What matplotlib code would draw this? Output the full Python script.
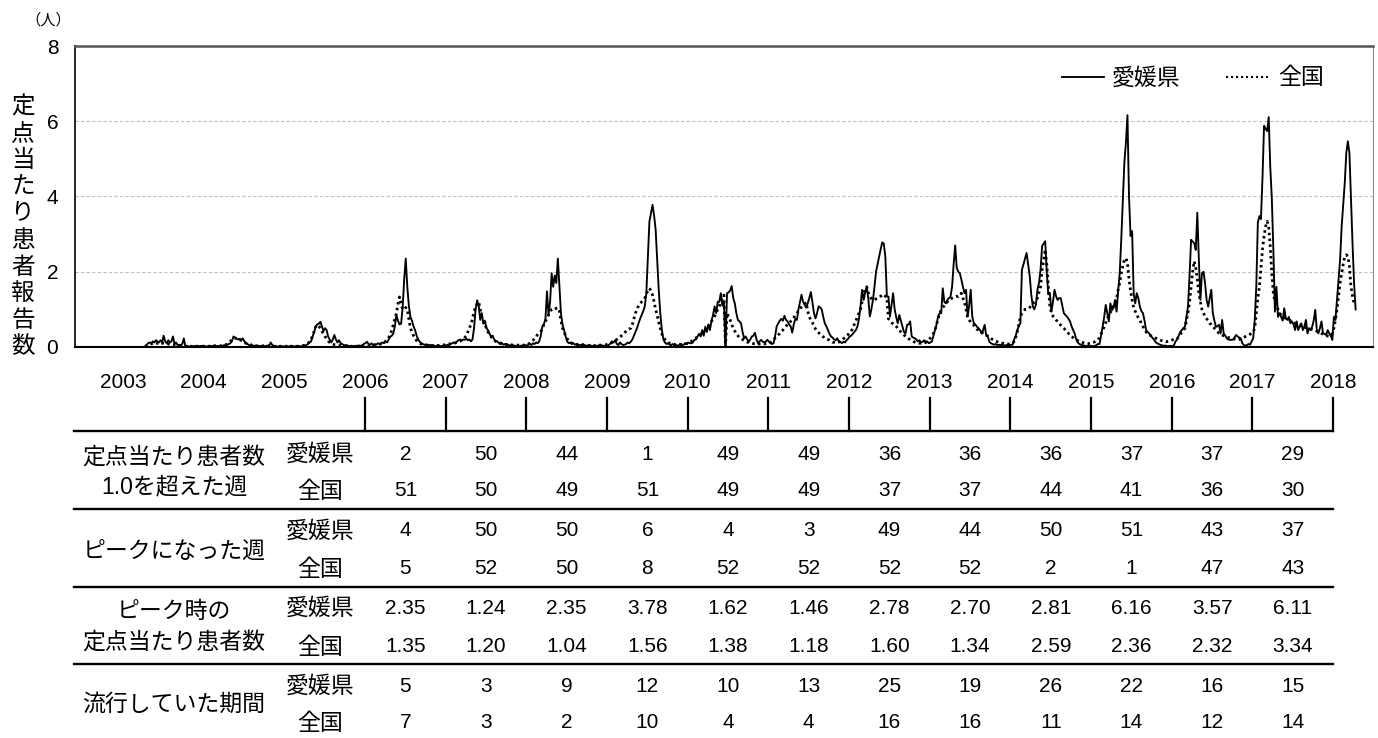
import numpy as np
import matplotlib
matplotlib.use("Agg")
import matplotlib.pyplot as plt
from matplotlib.lines import Line2D

plt.rcParams['font.family'] = ['Liberation Sans', 'Noto Sans CJK JP']

# ---------------- weekly data (per sentinel), 2003 week 45 onward ----------------
ehime_2003 = [0.00, 0.05, 0.10, 0.12, 0.10, 0.15, 0.12, 0.18]
national_2003 = [0.02, 0.04, 0.05, 0.07, 0.08, 0.10, 0.10, 0.09]

ehime_2004 = [0.15, 0.12, 0.18, 0.12, 0.30, 0.15, 0.10, 0.18, 0.12, 0.15,
              0.28, 0.08, 0.12, 0.05, 0.06, 0.04, 0.08, 0.23, 0.02, 0.03,
              0.02, 0.01, 0.02, 0.01, 0.03, 0.02, 0.01, 0.02, 0.03, 0.02,
              0.03, 0.02, 0.01, 0.02, 0.03, 0.02, 0.03, 0.04, 0.02, 0.03,
              0.02, 0.04, 0.03, 0.05, 0.04, 0.06, 0.08, 0.10, 0.15, 0.28,
              0.25, 0.22, 0.20]
national_2004 = [0.10, 0.10, 0.12, 0.10, 0.10, 0.09, 0.08, 0.08, 0.07, 0.07,
                 0.06, 0.06, 0.05, 0.05, 0.04, 0.04, 0.03, 0.03, 0.03, 0.02,
                 0.02, 0.02, 0.02, 0.02, 0.02, 0.02, 0.02, 0.02, 0.02, 0.02,
                 0.02, 0.02, 0.02, 0.02, 0.02, 0.02, 0.02, 0.03, 0.03, 0.03,
                 0.03, 0.03, 0.04, 0.05, 0.06, 0.08, 0.12, 0.15, 0.20, 0.23,
                 0.24, 0.22, 0.20]

ehime_2005 = [0.22, 0.18, 0.23, 0.15, 0.10, 0.08, 0.05, 0.04, 0.03, 0.03,
              0.04, 0.03, 0.02, 0.03, 0.02, 0.03, 0.02, 0.03, 0.03, 0.04,
              0.12, 0.05, 0.03, 0.02, 0.02, 0.01, 0.02, 0.01, 0.02, 0.01,
              0.02, 0.01, 0.02, 0.03, 0.02, 0.01, 0.02, 0.03, 0.02, 0.02,
              0.02, 0.03, 0.04, 0.05, 0.08, 0.12, 0.15, 0.28, 0.40, 0.54,
              0.60, 0.62]
national_2005 = [0.20, 0.17, 0.14, 0.12, 0.10, 0.08, 0.07, 0.06, 0.05, 0.04,
                 0.03, 0.03, 0.03, 0.03, 0.03, 0.03, 0.03, 0.03, 0.03, 0.03,
                 0.02, 0.02, 0.02, 0.02, 0.02, 0.02, 0.02, 0.02, 0.02, 0.02,
                 0.02, 0.02, 0.02, 0.02, 0.02, 0.02, 0.02, 0.02, 0.02, 0.02,
                 0.03, 0.04, 0.05, 0.07, 0.10, 0.14, 0.20, 0.30, 0.42, 0.54,
                 0.59, 0.55]

ehime_2006 = [0.67, 0.55, 0.42, 0.50, 0.45, 0.28, 0.20, 0.12, 0.20, 0.32,
              0.20, 0.12, 0.18, 0.10, 0.08, 0.05, 0.04, 0.05, 0.03, 0.02,
              0.03, 0.02, 0.03, 0.02, 0.03, 0.04, 0.03, 0.05, 0.08, 0.10,
              0.14, 0.08, 0.06, 0.10, 0.05, 0.08, 0.06, 0.10, 0.08, 0.10,
              0.12, 0.10, 0.15, 0.12, 0.20, 0.27, 0.30, 0.36, 0.55, 0.85,
              0.70, 0.60]
national_2006 = [0.50, 0.42, 0.35, 0.28, 0.22, 0.16, 0.12, 0.10, 0.08, 0.06,
                 0.05, 0.05, 0.04, 0.04, 0.03, 0.03, 0.03, 0.03, 0.03, 0.02,
                 0.02, 0.02, 0.02, 0.02, 0.02, 0.02, 0.02, 0.02, 0.02, 0.02,
                 0.03, 0.03, 0.03, 0.03, 0.04, 0.04, 0.05, 0.06, 0.07, 0.08,
                 0.10, 0.12, 0.15, 0.19, 0.25, 0.33, 0.45, 0.60, 0.75, 0.90,
                 1.15, 1.33]

ehime_2007 = [0.62, 1.05, 1.80, 2.35, 1.60, 1.10, 0.80, 0.70, 0.55, 0.45,
              0.30, 0.20, 0.14, 0.10, 0.08, 0.06, 0.05, 0.04, 0.06, 0.05,
              0.03, 0.04, 0.02, 0.03, 0.04, 0.03, 0.02, 0.03, 0.05, 0.04,
              0.06, 0.05, 0.08, 0.10, 0.12, 0.10, 0.15, 0.18, 0.20, 0.17,
              0.20, 0.19, 0.22, 0.18, 0.20, 0.15, 0.20, 0.50, 1.00, 1.24,
              1.10, 0.72]
national_2007 = [1.15, 1.00, 1.00, 1.05, 1.00, 0.75, 0.50, 0.40, 0.30, 0.22,
                 0.17, 0.13, 0.10, 0.08, 0.07, 0.06, 0.06, 0.05, 0.05, 0.05,
                 0.04, 0.04, 0.04, 0.04, 0.04, 0.05, 0.05, 0.05, 0.06, 0.07,
                 0.08, 0.08, 0.09, 0.10, 0.10, 0.11, 0.12, 0.14, 0.16, 0.18,
                 0.20, 0.25, 0.30, 0.40, 0.50, 0.60, 0.75, 0.95, 1.05, 1.15,
                 1.20, 1.00]

ehime_2008 = [0.90, 0.62, 0.70, 0.50, 0.45, 0.35, 0.28, 0.30, 0.20, 0.15,
              0.15, 0.10, 0.12, 0.10, 0.06, 0.08, 0.05, 0.06, 0.04, 0.05,
              0.03, 0.04, 0.02, 0.03, 0.02, 0.03, 0.04, 0.03, 0.05, 0.04,
              0.06, 0.08, 0.05, 0.10, 0.08, 0.12, 0.10, 0.15, 0.30, 0.55,
              0.60, 0.75, 1.48, 0.85, 1.20, 1.96, 1.60, 1.90, 1.70, 2.35,
              1.60, 0.90]
national_2008 = [0.80, 0.68, 0.60, 0.50, 0.40, 0.33, 0.27, 0.22, 0.18, 0.15,
                 0.12, 0.10, 0.09, 0.08, 0.08, 0.07, 0.07, 0.06, 0.06, 0.06,
                 0.05, 0.05, 0.05, 0.05, 0.05, 0.05, 0.05, 0.05, 0.05, 0.05,
                 0.08, 0.10, 0.13, 0.18, 0.22, 0.28, 0.33, 0.38, 0.41, 0.50,
                 0.60, 0.68, 0.75, 0.85, 0.92, 1.00, 1.02, 1.00, 1.03, 1.04,
                 0.95, 0.70]

ehime_2009 = [0.60, 0.45, 0.28, 0.15, 0.10, 0.12, 0.08, 0.10, 0.06, 0.08,
              0.05, 0.06, 0.04, 0.08, 0.05, 0.04, 0.03, 0.05, 0.04, 0.03,
              0.02, 0.03, 0.02, 0.04, 0.05, 0.03, 0.04, 0.02, 0.05, 0.03,
              0.06, 0.10, 0.15, 0.12, 0.18, 0.08, 0.05, 0.12, 0.08, 0.05,
              0.06, 0.08, 0.12, 0.10, 0.14, 0.20, 0.30, 0.40, 0.50, 0.63,
              0.75, 0.85, 0.95]
national_2009 = [0.50, 0.40, 0.30, 0.22, 0.17, 0.13, 0.10, 0.08, 0.07, 0.07,
                 0.06, 0.06, 0.06, 0.05, 0.05, 0.05, 0.05, 0.04, 0.04, 0.04,
                 0.04, 0.04, 0.05, 0.05, 0.05, 0.05, 0.06, 0.06, 0.06, 0.07,
                 0.08, 0.10, 0.12, 0.15, 0.18, 0.20, 0.23, 0.26, 0.30, 0.34,
                 0.38, 0.42, 0.46, 0.48, 0.50, 0.60, 0.75, 0.90, 1.00, 1.10,
                 1.16, 1.20, 1.25]

ehime_2010 = [1.08, 1.43, 2.40, 3.34, 3.55, 3.78, 3.50, 3.12, 2.30, 1.52,
              0.90, 0.45, 0.20, 0.12, 0.08, 0.10, 0.06, 0.05, 0.08, 0.04,
              0.06, 0.03, 0.05, 0.08, 0.04, 0.06, 0.10, 0.08, 0.12, 0.10,
              0.10, 0.12, 0.19, 0.20, 0.28, 0.35, 0.28, 0.45, 0.30, 0.54,
              0.40, 0.60, 0.45, 0.70, 0.85, 1.08, 0.90, 1.20, 1.20, 1.43,
              1.10, 1.20, 0.00]
national_2010 = [1.30, 1.40, 1.50, 1.56, 1.50, 1.38, 1.20, 1.00, 0.85, 0.65,
                 0.50, 0.35, 0.25, 0.20, 0.15, 0.12, 0.10, 0.09, 0.08, 0.07,
                 0.06, 0.06, 0.06, 0.07, 0.07, 0.08, 0.08, 0.09, 0.10, 0.12,
                 0.15, 0.18, 0.20, 0.24, 0.28, 0.30, 0.33, 0.36, 0.40, 0.45,
                 0.50, 0.55, 0.62, 0.68, 0.75, 0.82, 0.90, 1.00, 1.08, 1.20,
                 1.30, 1.38, 0.00]

ehime_2011 = [1.43, 1.45, 1.50, 1.62, 1.30, 1.16, 0.90, 0.72, 0.68, 0.63,
              0.40, 0.23, 0.28, 0.20, 0.14, 0.20, 0.28, 0.30, 0.38, 0.20,
              0.10, 0.15, 0.19, 0.14, 0.12, 0.15, 0.19, 0.14, 0.10, 0.08,
              0.10, 0.30, 0.55, 0.63, 0.70, 0.75, 0.70, 0.83, 0.72, 0.68,
              0.60, 0.55, 0.38, 0.60, 0.75, 0.72, 1.00, 1.20, 1.39, 1.20,
              1.12, 1.05]
national_2011 = [0.90, 0.80, 0.72, 0.60, 0.50, 0.42, 0.36, 0.30, 0.25, 0.22,
                 0.20, 0.18, 0.15, 0.13, 0.12, 0.10, 0.10, 0.09, 0.09, 0.09,
                 0.08, 0.08, 0.08, 0.08, 0.08, 0.09, 0.09, 0.10, 0.12, 0.15,
                 0.20, 0.24, 0.28, 0.32, 0.36, 0.42, 0.45, 0.50, 0.55, 0.60,
                 0.62, 0.68, 0.72, 0.78, 0.85, 0.90, 0.95, 1.02, 1.06, 1.10,
                 1.15, 1.18]

ehime_2012 = [1.16, 1.30, 1.46, 1.20, 0.90, 0.76, 0.90, 1.08, 1.05, 1.00,
              0.80, 0.63, 0.55, 0.45, 0.35, 0.28, 0.25, 0.20, 0.18, 0.23,
              0.15, 0.14, 0.10, 0.14, 0.12, 0.18, 0.22, 0.28, 0.30, 0.35,
              0.40, 0.45, 0.54, 0.75, 1.08, 1.52, 1.25, 1.45, 1.60, 1.30,
              0.81, 1.00, 1.25, 1.60, 2.00, 2.20, 2.40, 2.60, 2.78, 2.75,
              2.40, 1.34]
national_2012 = [0.95, 0.80, 0.72, 0.65, 0.55, 0.48, 0.42, 0.38, 0.34, 0.30,
                 0.27, 0.25, 0.22, 0.20, 0.18, 0.15, 0.13, 0.12, 0.11, 0.12,
                 0.13, 0.15, 0.18, 0.22, 0.25, 0.30, 0.33, 0.38, 0.42, 0.50,
                 0.60, 0.70, 0.80, 0.90, 1.00, 1.20, 1.40, 1.55, 1.60, 1.45,
                 1.35, 1.28, 1.25, 1.25, 1.28, 1.30, 1.32, 1.35, 1.38, 1.40,
                 1.35, 1.30]

ehime_2013 = [1.34, 0.81, 1.12, 1.43, 1.00, 0.80, 0.63, 0.85, 0.70, 0.55,
              0.40, 0.36, 0.59, 0.60, 0.68, 0.28, 0.25, 0.23, 0.20, 0.15,
              0.18, 0.12, 0.14, 0.18, 0.10, 0.15, 0.10, 0.12, 0.15, 0.30,
              0.45, 0.60, 0.81, 0.90, 0.90, 1.56, 1.20, 1.16, 1.25, 1.30,
              1.34, 1.60, 2.20, 2.70, 2.10, 2.00, 1.96, 1.79, 1.60, 1.43,
              1.52, 0.81]
national_2013 = [0.75, 0.70, 0.65, 0.62, 0.60, 0.55, 0.50, 0.45, 0.40, 0.36,
                 0.32, 0.28, 0.25, 0.22, 0.20, 0.18, 0.15, 0.13, 0.12, 0.11,
                 0.10, 0.10, 0.11, 0.12, 0.14, 0.16, 0.20, 0.24, 0.30, 0.36,
                 0.45, 0.60, 0.75, 0.90, 0.98, 1.05, 1.10, 1.15, 1.20, 1.25,
                 1.28, 1.30, 1.32, 1.34, 1.35, 1.34, 1.38, 1.43, 1.30, 1.20,
                 1.00, 0.80]

ehime_2014 = [1.10, 1.52, 0.81, 0.63, 0.60, 0.54, 0.50, 0.45, 0.36, 0.45,
              0.59, 0.30, 0.28, 0.14, 0.10, 0.08, 0.06, 0.08, 0.05, 0.06,
              0.05, 0.06, 0.05, 0.04, 0.05, 0.04, 0.05, 0.06, 0.06, 0.20,
              0.30, 0.45, 0.55, 0.63, 2.05, 2.20, 2.35, 2.50, 2.20, 1.90,
              1.40, 1.08, 1.00, 1.12, 1.52, 1.70, 2.05, 2.68, 2.75, 2.81,
              2.00, 1.40]
national_2014 = [0.72, 0.66, 0.63, 0.58, 0.52, 0.47, 0.45, 0.42, 0.39, 0.37,
                 0.36, 0.32, 0.29, 0.25, 0.23, 0.20, 0.17, 0.15, 0.14, 0.12,
                 0.11, 0.10, 0.10, 0.09, 0.09, 0.08, 0.08, 0.08, 0.10, 0.15,
                 0.25, 0.40, 0.60, 0.80, 0.90, 0.95, 1.00, 1.00, 1.02, 1.05,
                 1.10, 1.15, 1.20, 1.25, 1.30, 1.45, 1.60, 2.05, 2.30, 2.59,
                 2.20, 1.60]

ehime_2015 = [1.43, 0.94, 1.20, 1.52, 1.35, 1.25, 1.30, 1.30, 1.10, 0.90,
              0.85, 0.81, 0.75, 0.68, 0.55, 0.45, 0.36, 0.20, 0.12, 0.08,
              0.06, 0.05, 0.04, 0.03, 0.02, 0.03, 0.02, 0.03, 0.02, 0.03,
              0.05, 0.08, 0.08, 0.30, 0.54, 0.80, 1.12, 0.90, 0.68, 1.16,
              0.98, 1.05, 1.25, 0.94, 1.50, 1.96, 2.85, 3.90, 4.90, 5.43,
              6.16, 4.00, 2.95]
national_2015 = [1.10, 0.90, 0.82, 0.78, 0.72, 0.68, 0.62, 0.58, 0.54, 0.50,
                 0.45, 0.40, 0.36, 0.32, 0.28, 0.25, 0.22, 0.20, 0.17, 0.15,
                 0.13, 0.12, 0.11, 0.10, 0.10, 0.09, 0.10, 0.11, 0.12, 0.14,
                 0.16, 0.19, 0.25, 0.35, 0.42, 0.55, 0.65, 0.75, 0.85, 0.92,
                 1.00, 1.08, 1.16, 1.30, 1.52, 1.70, 1.96, 2.15, 2.32, 2.36,
                 2.25, 1.80, 1.50]

ehime_2016 = [3.08, 1.43, 1.16, 1.43, 1.30, 1.07, 0.95, 0.90, 0.70, 0.45,
              0.40, 0.36, 0.30, 0.25, 0.20, 0.14, 0.10, 0.08, 0.06, 0.05,
              0.03, 0.04, 0.03, 0.02, 0.03, 0.03, 0.02, 0.05, 0.15, 0.20,
              0.30, 0.40, 0.45, 0.50, 0.54, 0.80, 1.08, 1.90, 2.85, 2.80,
              2.76, 2.58, 3.57, 2.32, 1.25, 1.96, 2.00, 1.70, 1.25, 1.07,
              1.30, 1.52]
national_2016 = [1.25, 1.05, 0.95, 0.85, 0.78, 0.72, 0.62, 0.54, 0.46, 0.40,
                 0.36, 0.33, 0.30, 0.28, 0.26, 0.24, 0.22, 0.20, 0.19, 0.17,
                 0.16, 0.15, 0.14, 0.15, 0.16, 0.17, 0.19, 0.20, 0.19, 0.22,
                 0.27, 0.33, 0.40, 0.45, 0.50, 0.70, 0.90, 1.20, 1.60, 2.00,
                 2.28, 2.10, 1.80, 1.43, 1.20, 1.00, 0.90, 0.81, 0.75, 0.70,
                 0.63, 0.60]

ehime_2017 = [0.90, 0.70, 0.54, 0.55, 0.59, 0.36, 0.72, 0.36, 0.30, 0.23,
              0.20, 0.19, 0.19, 0.20, 0.25, 0.32, 0.28, 0.25, 0.23, 0.10,
              0.05, 0.04, 0.05, 0.08, 0.06, 0.15, 0.23, 0.72, 1.60, 3.30,
              3.48, 3.40, 4.50, 5.88, 5.80, 5.74, 6.11, 4.80, 3.96, 2.59,
              0.94, 1.60, 0.80, 0.90, 0.80, 0.70, 1.03, 0.76, 0.72, 0.80,
              0.63, 0.68]
national_2017 = [0.55, 0.50, 0.46, 0.42, 0.36, 0.34, 0.32, 0.30, 0.28, 0.27,
                 0.25, 0.24, 0.23, 0.22, 0.21, 0.20, 0.19, 0.20, 0.21, 0.23,
                 0.25, 0.28, 0.30, 0.32, 0.34, 0.36, 0.40, 0.50, 0.90, 1.30,
                 1.60, 2.10, 2.60, 2.94, 3.20, 3.34, 3.20, 2.68, 1.96, 1.43,
                 1.20, 1.08, 1.00, 0.90, 0.85, 0.81, 0.78, 0.76, 0.74, 0.72,
                 0.70, 0.67]

ehime_2018 = [0.60, 0.45, 0.68, 0.45, 0.55, 0.63, 0.45, 0.55, 0.72, 0.36,
              0.50, 0.45, 0.54, 0.70, 0.99, 0.45, 0.36, 0.50, 0.68, 0.36,
              0.35, 0.32, 0.45, 0.36, 0.30, 0.19, 0.80, 0.72, 1.25, 1.80,
              2.32, 3.20, 3.80, 4.36, 5.16, 5.47, 5.16, 3.92, 2.76, 1.70,
              1.00]
national_2018 = [0.65, 0.63, 0.62, 0.60, 0.58, 0.55, 0.54, 0.52, 0.51, 0.50,
                 0.49, 0.48, 0.47, 0.46, 0.45, 0.42, 0.40, 0.38, 0.36, 0.34,
                 0.32, 0.30, 0.29, 0.28, 0.30, 0.36, 0.50, 0.72, 1.00, 1.34,
                 1.70, 1.96, 2.20, 2.41, 2.45, 2.41, 2.15, 1.60, 1.35, 1.16]

years = list(range(2003, 2019))
season_years = list(range(2006, 2018))

# ---------------- table values ----------------
row_groups = [["定点当たり患者数", "1.0を超えた週"], ["ピークになった週"],
              ["ピーク時の", "定点当たり患者数"], ["流行していた期間"]]
over1_ehime = ["2", "50", "44", "1", "49", "49", "36", "36", "36", "37", "37", "29"]
over1_national = ["51", "50", "49", "51", "49", "49", "37", "37", "44", "41", "36", "30"]
peakweek_ehime = ["4", "50", "50", "6", "4", "3", "49", "44", "50", "51", "43", "37"]
peakweek_national = ["5", "52", "50", "8", "52", "52", "52", "52", "2", "1", "47", "43"]
peakval_ehime = ["2.35", "1.24", "2.35", "3.78", "1.62", "1.46", "2.78", "2.70", "2.81", "6.16", "3.57", "6.11"]
peakval_national = ["1.35", "1.20", "1.04", "1.56", "1.38", "1.18", "1.60", "1.34", "2.59", "2.36", "2.32", "3.34"]
period_ehime = ["5", "3", "9", "12", "10", "13", "25", "19", "26", "22", "16", "15"]
period_national = ["7", "3", "2", "10", "4", "4", "16", "16", "11", "14", "12", "14"]

ehime = np.concatenate([ehime_2003, ehime_2004, ehime_2005, ehime_2006, ehime_2007,
                        ehime_2008, ehime_2009, ehime_2010, ehime_2011, ehime_2012,
                        ehime_2013, ehime_2014, ehime_2015, ehime_2016, ehime_2017,
                        ehime_2018])
national = np.concatenate([national_2003, national_2004, national_2005, national_2006,
                           national_2007, national_2008, national_2009, national_2010,
                           national_2011, national_2012, national_2013, national_2014,
                           national_2015, national_2016, national_2017, national_2018])

# ---------------- layout ----------------
W, H = 1378, 738
fig = plt.figure(figsize=(W / 100, H / 100), dpi=100)
fig.patch.set_facecolor('white')


def fx(px):
    return px / W


def fy(py):
    return 1 - py / H


SOLID_LW = 1.35
DOT_LW = 2.0
DOT_STYLE = (0, (0.9, 1.2))

ax = fig.add_axes([fx(75), fy(347), fx(1373) - fx(75), fy(46) - fy(347)])
ax.plot(np.arange(len(ehime)), ehime, color='black', lw=SOLID_LW, zorder=3)
ax.plot(np.arange(len(national)), national, color='black', lw=DOT_LW,
        linestyle=DOT_STYLE, zorder=2)

ax.set_xlim(-45.1, 791.2)
ax.set_ylim(0, 8)
ax.set_yticks([0, 2, 4, 6, 8])
ax.set_yticklabels(['0', '2', '4', '6', '8'], fontsize=15)
ax.tick_params(axis='y', length=0, pad=12)
ax.set_xticks([])
ax.yaxis.grid(True, linestyle=(0, (3, 2)), color='#BFBFBF', lw=0.8)
ax.set_axisbelow(True)
ax.spines['left'].set_color('black')
ax.spines['left'].set_linewidth(1.2)
ax.spines['bottom'].set_color('black')
ax.spines['bottom'].set_linewidth(1.5)
ax.spines['top'].set_color('#555555')
ax.spines['top'].set_linewidth(1.8)
ax.spines['right'].set_color('#8C8C8C')
ax.spines['right'].set_linewidth(0.8)


def year_pos(y):
    return 141.75 + (y - 2006) * 51.98


def data_to_px(xd):
    return ax.transData.transform((xd, 0))[0]


# legend
fig.add_artist(Line2D([fx(1062), fx(1104)], [fy(77), fy(77)], color='black', lw=SOLID_LW))
fig.text(fx(1112), fy(78), '愛媛県', fontsize=16.5, ha='left', va='center')
fig.add_artist(Line2D([fx(1226), fx(1268)], [fy(77), fy(77)], color='black', lw=1.5,
                      linestyle=(0, (1.0, 1.4))))
fig.text(fx(1278), fy(78), '全国', fontsize=16.5, ha='left', va='center')

# unit and y label
fig.text(fx(48), fy(20), '（人）', fontsize=11, ha='center', va='center')
ylabel = '定点当たり患者報告数'
for k, ch in enumerate(ylabel):
    fig.text(fx(23), fy(107.5 + 26.67 * k), ch, fontsize=17, ha='center', va='center')

# year labels
for y in years:
    fig.text(fx(data_to_px(year_pos(y))), fy(383), str(y), fontsize=15,
             ha='center', va='center')

# table lines
right_px = data_to_px(year_pos(2018))
for yy in [431, 509, 587, 664]:
    fig.add_artist(Line2D([fx(74), fx(right_px)], [fy(yy), fy(yy)], color='black', lw=1.7))
for y in range(2006, 2019):
    px = data_to_px(year_pos(y))
    fig.add_artist(Line2D([fx(px), fx(px)], [fy(398), fy(431)], color='black', lw=1.6))

# row group labels
group_lines = [[457, 487], [551], [611, 642], [704]]
for labels, ys in zip(row_groups, group_lines):
    for lab, yy in zip(labels, ys):
        fig.text(fx(174), fy(yy), lab, fontsize=16.5, ha='center', va='center')

row_y_e = [454, 531, 608, 686]
row_y_n = [491, 569, 647, 723]
table_e = [over1_ehime, peakweek_ehime, peakval_ehime, period_ehime]
table_n = [over1_national, peakweek_national, peakval_national, period_national]
for r in range(4):
    fig.text(fx(320), fy(row_y_e[r]), '愛媛県', fontsize=16.5, ha='center', va='center')
    fig.text(fx(320), fy(row_y_n[r]), '全国', fontsize=16.5, ha='center', va='center')
    for c, sy in enumerate(season_years):
        px = data_to_px(year_pos(sy + 0.5))
        fig.text(fx(px), fy(row_y_e[r]), table_e[r][c], fontsize=15, ha='center', va='center')
        fig.text(fx(px), fy(row_y_n[r]), table_n[r][c], fontsize=15, ha='center', va='center')

fig.savefig('out.png', dpi=100, facecolor='white')
